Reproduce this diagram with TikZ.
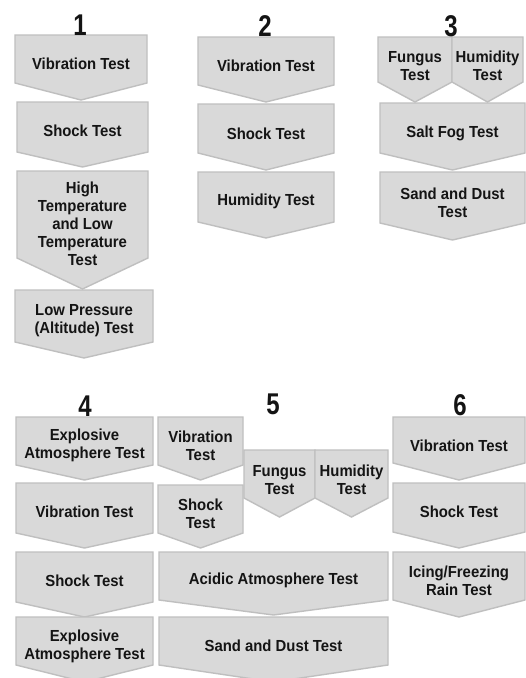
\documentclass[tikz,border=0pt]{standalone}
\usepackage{fontspec}
\newfontfamily\boxfont[FakeStretch=0.93]{Liberation Sans}
\newfontfamily\numfont[FakeStretch=0.8]{Liberation Sans}
\definecolor{chevfill}{HTML}{D9D9D9}
\definecolor{chevline}{HTML}{BFBFBF}
\definecolor{chevink}{HTML}{141414}
\tikzset{
  chev/.style={fill=chevfill, draw=chevline, line width=1.4pt, line join=miter},
  chevtext/.style={inner sep=0pt, align=center, text=chevink,
    font=\boxfont\bfseries\fontsize{16}{18}\selectfont},
  stepnum/.style={inner sep=0pt, text=chevink,
    font=\numfont\bfseries\fontsize{30}{31}\selectfont},
}
% chevron box: name, left x, right x, top y, side bottom y, tip y, text
\newcommand\chevbox[7]{%
  \draw[chev] (#2,#4) -- (#3,#4) -- (#3,#5) -- ({(#2+#3)/2},#6) -- (#2,#5) -- cycle;
  \node[chevtext] (#1) at ({(#2+#3)/2},{#4+0.45*(#6-#4)}) {#7};
}
\begin{document}
\begin{tikzpicture}[x=1pt, y=-1pt]
\useasboundingbox[fill=white] (0,0) rectangle (526,678);

% sequence 1
\chevbox{a1}{15}{147}{35}{83}{100}{Vibration Test}
\chevbox{a2}{17}{148}{102}{152}{167}{Shock Test}
\chevbox{a3}{17}{148}{171}{258}{289}{High\\Temperature\\and Low\\Temperature\\Test}
\chevbox{a4}{15}{153}{290}{342}{358}{Low Pressure\\(Altitude) Test}

% sequence 2
\chevbox{b1}{198}{334}{37}{85}{102}{Vibration Test}
\chevbox{b2}{198}{334}{104}{153}{170}{Shock Test}
\chevbox{b3}{198}{334}{172}{222}{238}{Humidity Test}

% sequence 3
\chevbox{c1}{378}{452}{37}{82}{102}{Fungus\\Test}
\chevbox{c2}{452}{523}{37}{82}{102}{Humidity\\Test}
\chevbox{c3}{380}{525}{103}{153}{170}{Salt Fog Test}
\chevbox{c4}{380}{525}{172}{223}{240}{Sand and Dust\\Test}

% sequence 4
\chevbox{d1}{16}{153}{417}{465}{480}{Explosive\\Atmosphere Test}
\chevbox{d2}{16}{153}{483}{533}{548}{Vibration Test}
\chevbox{d3}{16}{153}{552}{602}{617}{Shock Test}
\chevbox{d4}{16}{153}{617}{665}{682}{Explosive\\Atmosphere Test}

% sequence 5
\chevbox{e1}{158}{243}{417}{465}{480}{Vibration\\Test}
\chevbox{e2}{158}{243}{485}{533}{548}{Shock\\Test}
\chevbox{e3}{244}{315}{450}{498}{517}{Fungus\\Test}
\chevbox{e4}{315}{388}{450}{498}{517}{Humidity\\Test}
\chevbox{e5}{159}{388}{552}{600}{615}{Acidic Atmosphere Test}
\chevbox{e6}{159}{388}{617}{665}{682}{Sand and Dust Test}

% sequence 6
\chevbox{f1}{393}{525}{417}{463}{480}{Vibration Test}
\chevbox{f2}{393}{525}{483}{532}{548}{Shock Test}
\chevbox{f3}{393}{525}{552}{600}{617}{Icing/Freezing\\Rain Test}

% sequence numbers, sitting on the top edge of each column
\node[stepnum] (n1) at (80,25) {1};
\node[stepnum] (n2) at (265,26) {2};
\node[stepnum] (n3) at (451,26) {3};
\node[stepnum] (n4) at (85,406) {4};
\node[stepnum] (n5) at (273,404) {5};
\node[stepnum] (n6) at (460,405) {6};
\end{tikzpicture}
\end{document}
